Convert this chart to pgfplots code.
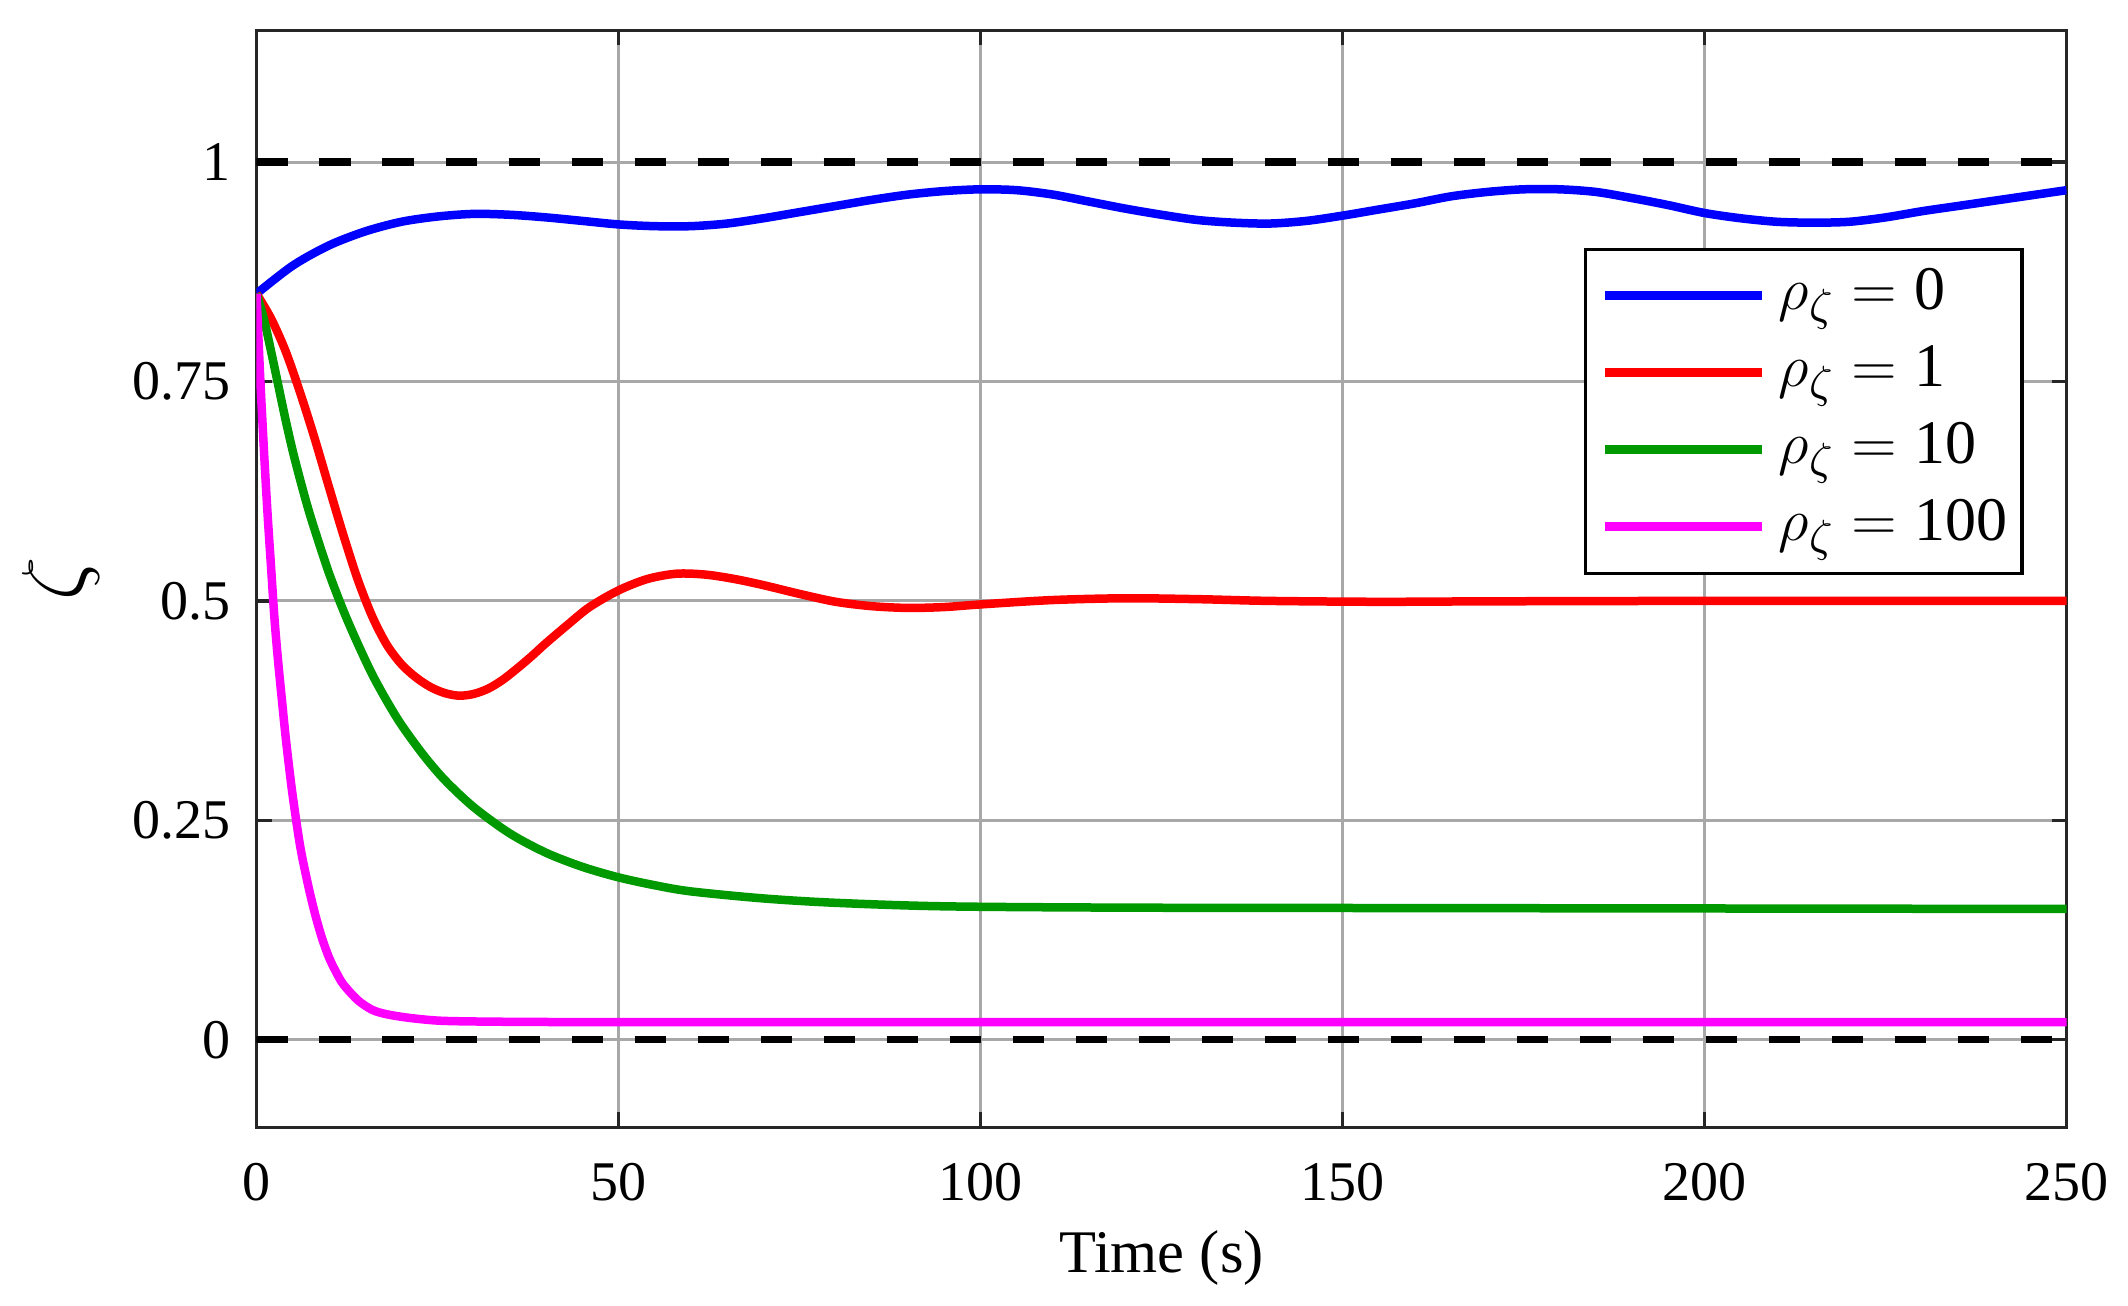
\documentclass[border=0pt]{standalone}
\usepackage{fontspec}
\setmainfont{Liberation Serif}
\usepackage{pgfplots}
\pgfplotsset{compat=1.18}
\usepackage{pgfplotstable}

\definecolor{gridc}{RGB}{168,168,168}
\definecolor{axc}{RGB}{38,38,38}
\definecolor{mgreen}{RGB}{0,153,0}
\definecolor{mmag}{RGB}{255,0,255}
\definecolor{mblue}{RGB}{0,0,255}
\definecolor{mred}{RGB}{255,0,0}

\pgfplotstableread{
t z
0 0.850
5 0.882
10 0.905
15 0.921
20 0.932
25 0.938
30 0.941
35 0.940
40 0.937
45 0.933
50 0.929
55 0.927
60 0.927
65 0.930
70 0.936
75 0.943
80 0.950
85 0.957
90 0.963
95 0.967
100 0.969
105 0.968
110 0.963
115 0.955
120 0.947
125 0.940
130 0.934
135 0.931
140 0.930
145 0.933
150 0.939
155 0.946
160 0.953
165 0.961
170 0.966
175 0.969
180 0.969
185 0.966
190 0.959
195 0.951
200 0.942
205 0.936
210 0.932
215 0.931
220 0.932
225 0.937
230 0.944
235 0.950
240 0.956
245 0.962
250 0.968
}\blue

\pgfplotstableread{
t z
0 0.850
2 0.822
4 0.785
6 0.738
8 0.686
10 0.630
12 0.575
14 0.524
16 0.482
18 0.450
20 0.428
22 0.413
24 0.402
26 0.395
28 0.392
30 0.394
32 0.400
34 0.410
36 0.423
38 0.437
40 0.452
43 0.473
46 0.493
50 0.512
54 0.525
58 0.531
62 0.530
66 0.525
70 0.518
75 0.508
80 0.499
85 0.494
90 0.492
95 0.493
100 0.496
110 0.501
120 0.503
130 0.502
140 0.500
155 0.499
170 0.4995
200 0.500
250 0.500
}\red

\pgfplotstableread{
t z
0 0.850
1 0.822
2 0.785
3 0.746
4 0.707
5 0.671
6 0.639
7 0.609
8 0.582
10 0.532
12 0.489
14 0.451
16 0.416
18 0.386
20 0.359
23 0.325
26 0.296
30 0.265
35 0.235
40 0.213
45 0.197
50 0.185
55 0.176
60 0.169
70 0.161
80 0.156
95 0.152
120 0.1505
160 0.150
250 0.149
}\green

\pgfplotstableread{
t z
0 0.850
0.5 0.757
1 0.676
1.5 0.603
2 0.540
2.5 0.478
3 0.430
3.5 0.388
4 0.347
4.5 0.311
5 0.278
6 0.222
7 0.181
8 0.146
9 0.117
10 0.094
11 0.077
12 0.063
14 0.045
16 0.034
18 0.029
21 0.025
25 0.0218
30 0.0208
40 0.0202
60 0.020
250 0.020
}\magenta

\begin{document}
\begin{tikzpicture}
\begin{axis}[
  scale only axis,
  width=362pt, height=219.4pt,
  xmin=0, xmax=250, ymin=-0.1, ymax=1.15,
  xtick={0,50,100,150,200,250},
  ytick={0,0.25,0.5,0.75,1},
  yticklabels={0,0.25,0.5,0.75,1},
  /pgf/number format/assume math mode=true,
  tick label style={font=\fontsize{11.2}{13}\selectfont},
  xticklabel style={yshift=-3.7pt},
  yticklabel style={xshift=-1.6pt},
  tick align=inside,
  major tick length=3pt,
  tick style={color=axc, line width=0.66pt},
  axis line style={color=axc, line width=0.66pt},
  grid=major,
  major grid style={color=gridc, line width=0.6pt},
  xlabel={Time (s)},
  ylabel={$\zeta$},
  every axis x label/.style={at={(axis description cs:0.5,-0.132)}, anchor=base, font=\fontsize{12.1}{14}\selectfont},
  every axis y label/.style={at={(axis description cs:-0.108,0.5)}, anchor=center, rotate=90, font=\fontsize{19}{22}\selectfont},
  legend style={at={(axis description cs:0.9765,0.802)}, anchor=north east, draw=black, line width=0.7pt, fill=white,
    font=\fontsize{12.4}{14}\selectfont, inner xsep=3pt, inner ysep=3.3pt, row sep=3.4pt, column sep=2.5pt,
    nodes={inner sep=0pt, text height=8.8pt, text depth=3.2pt}},
  legend cell align=left,
  legend image code/.code={\draw[#1, line width=1.8pt] (0pt,0pt) -- (31.4pt,0pt);},
]
\addplot[black, line width=1.5pt, dash pattern=on 6.3pt off 6.3pt, forget plot] coordinates {(0,1) (250,1)};
\addplot[black, line width=1.5pt, dash pattern=on 6.3pt off 6.3pt, forget plot] coordinates {(0,0) (250,0)};
\addplot[mblue, line width=1.7pt, smooth] table[x=t,y=z] {\blue};
\addlegendentry{$\rho_{\zeta}=\mbox{0}$}
\addplot[mred, line width=1.7pt, smooth] table[x=t,y=z] {\red};
\addlegendentry{$\rho_{\zeta}=\mbox{1}$}
\addplot[mgreen, line width=1.7pt, smooth] table[x=t,y=z] {\green};
\addlegendentry{$\rho_{\zeta}=\mbox{10}$}
\addplot[mmag, line width=1.7pt, smooth] table[x=t,y=z] {\magenta};
\addlegendentry{$\rho_{\zeta}=\mbox{100}$}
\end{axis}
\pgfresetboundingbox
\path (current axis.south west) ++(-51.3pt,-35.7pt) rectangle ([xshift=12.3pt,yshift=6.1pt]current axis.north east);
\end{tikzpicture}
\end{document}
